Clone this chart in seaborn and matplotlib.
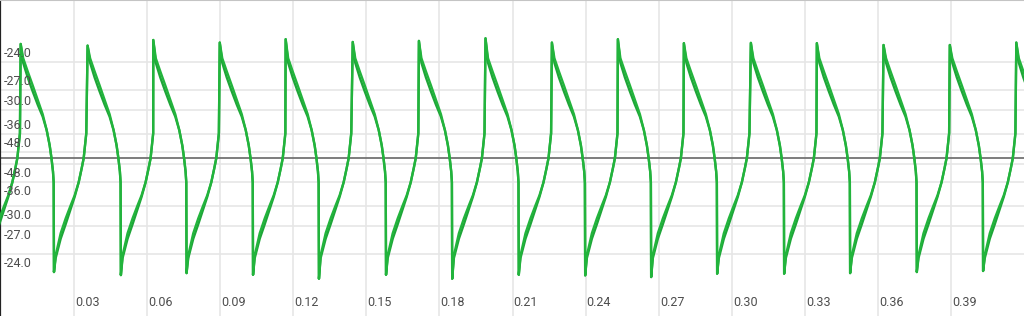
import numpy as np
import pandas as pd
import matplotlib
matplotlib.use("Agg")
import matplotlib.pyplot as plt
import seaborn as sns

# ---------------- data ----------------
# time (s) of each cycle's positive peak (first one lies just left of the view)
peak_times = [-0.01911, 0.00812, 0.03558, 0.06254, 0.08982, 0.11687, 0.14440,
              0.17156, 0.19889, 0.22614, 0.25322, 0.28030, 0.30780, 0.33488,
              0.36225, 0.38945, 0.41674]
# amplitude of each cycle's positive peak
peak_values = [0.0750, 0.0752, 0.0741, 0.0778, 0.0761, 0.0783, 0.0765, 0.0772,
               0.0789, 0.0761, 0.0783, 0.0757, 0.0759, 0.0757, 0.0745, 0.0745,
               0.0761]
# amplitude of each cycle's negative trough
trough_values = [-0.0750, -0.0748, -0.0768, -0.0755, -0.0766, -0.0792, -0.0766,
                 -0.0792, -0.0766, -0.0770, -0.0781, -0.0759, -0.0759, -0.0755,
                 -0.0748, -0.0741, -0.0750]

# one cycle of the waveform, measured from a peak (offset s, amplitude);
# index 0 is the peak, index 11 the trough (filled per cycle above)
cycle_offsets = [0.0, 0.00103, 0.00287, 0.00492, 0.00698, 0.00903, 0.01067,
                 0.01190, 0.01264, 0.01325, 0.01354, 0.01366, 0.01436, 0.01641,
                 0.01847, 0.02052, 0.02216, 0.02380, 0.02503, 0.02585, 0.02647,
                 0.02692]
cycle_amps = [0.0, 0.0658, 0.0572, 0.0480, 0.0385, 0.0290, 0.0185, 0.0085, 0.0,
              -0.0086, -0.0158, 0.0, -0.0638, -0.0493, -0.0395, -0.0309,
              -0.0243, -0.0158, -0.0066, 0.0, 0.0092, 0.0164]
# second (slightly shifted) trace that thickens parts of the line
cycle_band = [0.0, -0.0030, -0.0040, -0.0040, -0.0032, -0.0016, 0.0, 0.0, 0.0,
              0.0, 0.0, 0.0, -0.0018, -0.0036, -0.0038, -0.0024, -0.0010, 0.0,
              0.0, 0.0, 0.0, 0.0]
PEAK_IDX, TROUGH_IDX = 0, 11

# axis labels
db_levels = [-24.0, -27.0, -30.0, -36.0, -48.0]
x_ticks = [0.03, 0.06, 0.09, 0.12, 0.15, 0.18, 0.21, 0.24, 0.27, 0.30, 0.33, 0.36, 0.39]
x_labels = ["0.03", "0.06", "0.09", "0.12", "0.15", "0.18", "0.21", "0.24",
            "0.27", "0.30", "0.33", "0.36", "0.39"]

# ---------------- build table ----------------
rows = []
for c, t0 in enumerate(peak_times):
    for i, (dt, a, b) in enumerate(zip(cycle_offsets, cycle_amps, cycle_band)):
        if i == PEAK_IDX:
            a = peak_values[c]
        elif i == TROUGH_IDX:
            a = trough_values[c]
        rows.append({"t": t0 + dt, "a": a, "a2": a + b})
df = pd.DataFrame(rows)

# ---------------- plot ----------------
sns.set_style("white")
plt.rcParams["font.family"] = ["Roboto", "DejaVu Sans"]

fig = plt.figure(figsize=(10.24, 3.16), dpi=100)
ax = fig.add_axes([0, 0, 1, 1])

sns.lineplot(data=df, x="t", y="a2", sort=False, estimator=None, color="#1ea538",
             lw=1.7, ax=ax, zorder=3)
sns.lineplot(data=df, x="t", y="a", sort=False, estimator=None, color="#22b43c",
             lw=1.7, ax=ax, zorder=4)

ax.set_xlim(-0.00037, 0.4199)
ax.set_ylim(-0.1037, 0.1041)

grid_levels = [10 ** (d / 20.0) for d in db_levels]
ax.set_xticks(x_ticks)
ax.set_yticks(grid_levels + [-g for g in grid_levels])
ax.grid(True, color="#e6e6e6", lw=1.2, zorder=0)
ax.tick_params(labelbottom=False, labelleft=False, length=0)
ax.set_xlabel("")
ax.set_ylabel("")

ax.axhline(0, color="#737373", lw=1.3, zorder=2)

for s in ["right", "bottom"]:
    ax.spines[s].set_visible(False)
ax.spines["left"].set_color("#222222")
ax.spines["left"].set_linewidth(1.6)
ax.spines["top"].set_color("#c4c4c4")
ax.spines["top"].set_linewidth(1.5)

txt_color = "#4d4d4d"
for d, g in zip(db_levels, grid_levels):
    lab = f"{d:.1f}"
    ax.annotate(lab, xy=(0, g), xycoords=("axes fraction", "data"),
                xytext=(4, 9), textcoords="offset pixels", ha="left",
                va="center", fontsize=9, color=txt_color, zorder=5)
    ax.annotate(lab, xy=(0, -g), xycoords=("axes fraction", "data"),
                xytext=(4, -9), textcoords="offset pixels", ha="left",
                va="center", fontsize=9, color=txt_color, zorder=5)

for xt, lab in zip(x_ticks, x_labels):
    ax.annotate(lab, xy=(xt, 0), xycoords=("data", "axes fraction"),
                xytext=(1, 14), textcoords="offset pixels", ha="left",
                va="center", fontsize=9, color=txt_color, zorder=5)

fig.savefig("out.png", dpi=100)
